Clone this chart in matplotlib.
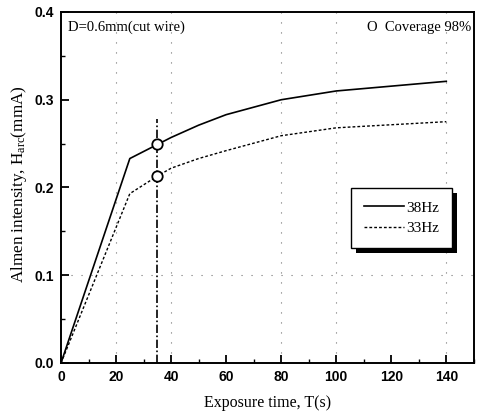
import matplotlib
matplotlib.use("Agg")
import matplotlib.pyplot as plt
from matplotlib.patches import Rectangle
from matplotlib.ticker import MultipleLocator

# ---- data ----
time_s = [0, 25, 35, 40, 50, 60, 80, 100, 140]
almen_38hz = [0.0, 0.233, 0.249, 0.257, 0.271, 0.283, 0.300, 0.310, 0.321]
almen_33hz = [0.0, 0.193, 0.213, 0.222, 0.233, 0.242, 0.259, 0.268, 0.275]
coverage_time = 35
coverage_38hz = 0.249
coverage_33hz = 0.213
coverage_line_top = 0.278
series_labels = ["38Hz", "33Hz"]
x_ticks = [0, 20, 40, 60, 80, 100, 120, 140]
y_ticks = [0.0, 0.1, 0.2, 0.3, 0.4]
grid_x = [20, 40, 80, 100, 140]
grid_y = [0.1]

plt.rcParams["mathtext.fontset"] = "custom"
plt.rcParams["mathtext.rm"] = "Liberation Serif"
plt.rcParams["mathtext.it"] = "Liberation Serif:italic"

serif = "Liberation Serif"
sans = "Liberation Sans"

fig = plt.figure(figsize=(4.82, 4.18), dpi=100)
ax = fig.add_axes([0.1266, 0.1316, 0.8564, 0.8397])

for gx in grid_x:
    ax.axvline(gx, color="0.45", lw=0.8, ls=(0, (1, 8)), zorder=1)
for gy in grid_y:
    ax.axhline(gy, color="0.45", lw=0.8, ls=(0, (1, 8)), zorder=1)

l1, = ax.plot(time_s, almen_38hz, color="black", lw=1.2, ls="-", label=series_labels[0], zorder=3)
l2, = ax.plot(time_s, almen_33hz, color="black", lw=1.0, ls=(0, (2, 1.5)), label=series_labels[1], zorder=3)
ax.plot([coverage_time, coverage_time], [0, coverage_line_top], color="black", lw=1.2,
        ls=(0, (5, 1.5, 1, 1.5)), zorder=2)
ax.plot([coverage_time, coverage_time], [coverage_38hz, coverage_33hz], ls="none", marker="o",
        ms=7.5, mfc="white", mec="black", mew=1.3, zorder=4)

ax.set_xlim(0, 150)
ax.set_ylim(0, 0.4)
ax.set_xticks(x_ticks)
ax.set_yticks(y_ticks)
ax.xaxis.set_minor_locator(MultipleLocator(10))
ax.yaxis.set_minor_locator(MultipleLocator(0.05))
ax.set_xticklabels([str(v) for v in x_ticks], fontfamily=sans, fontweight="bold", fontsize=10)
ax.set_yticklabels([f"{v:.1f}" for v in y_ticks], fontfamily=sans, fontweight="bold", fontsize=10)
ax.tick_params(which="major", direction="in", length=6, width=1.3, pad=5)
ax.tick_params(which="minor", direction="in", length=3, width=1.0)
for s in ax.spines.values():
    s.set_linewidth(1.4)

ax.set_xlabel("Exposure time, T(s)", fontfamily=serif, fontsize=11.5, labelpad=8)
ax.set_ylabel(r"Almen intensity, H$_{\mathrm{arc}}$(mmA)", fontfamily=serif, fontsize=12.3, labelpad=4)
ax.yaxis.set_label_coords(-0.078, 0.51)

ax.text(0.018, 0.975, "D=0.6mm(cut wire)", transform=ax.transAxes, ha="left", va="top",
        fontfamily=serif, fontsize=10.5)
ax.text(0.995, 0.975, "O  Coverage 98%", transform=ax.transAxes, ha="right", va="top",
        fontfamily=serif, fontsize=10.5)

leg = ax.legend(handles=[l1, l2], loc="upper left", bbox_to_anchor=(0.702, 0.499),
                frameon=True, fancybox=False, shadow=False, framealpha=1.0,
                prop={"family": serif, "size": 11},
                handlelength=2.6, handletextpad=0.15, borderpad=0.85, labelspacing=0.45,
                borderaxespad=0)
leg.get_frame().set_edgecolor("black")
leg.get_frame().set_facecolor("white")
leg.get_frame().set_linewidth(1.0)
leg.set_zorder(6)

fig.canvas.draw()
bb = leg.get_window_extent()
inv = fig.transFigure.inverted()
(x0, y0) = inv.transform((bb.x0 + 5, bb.y0 - 5))
(x1, y1) = inv.transform((bb.x1 + 5, bb.y1 - 5))
shadow = Rectangle((x0, y0), x1 - x0, y1 - y0, transform=fig.transFigure, facecolor="black",
                   edgecolor="none", zorder=5)
ax.add_artist(shadow)
shadow.set_clip_on(False)

fig.savefig("out.png", dpi=100)
